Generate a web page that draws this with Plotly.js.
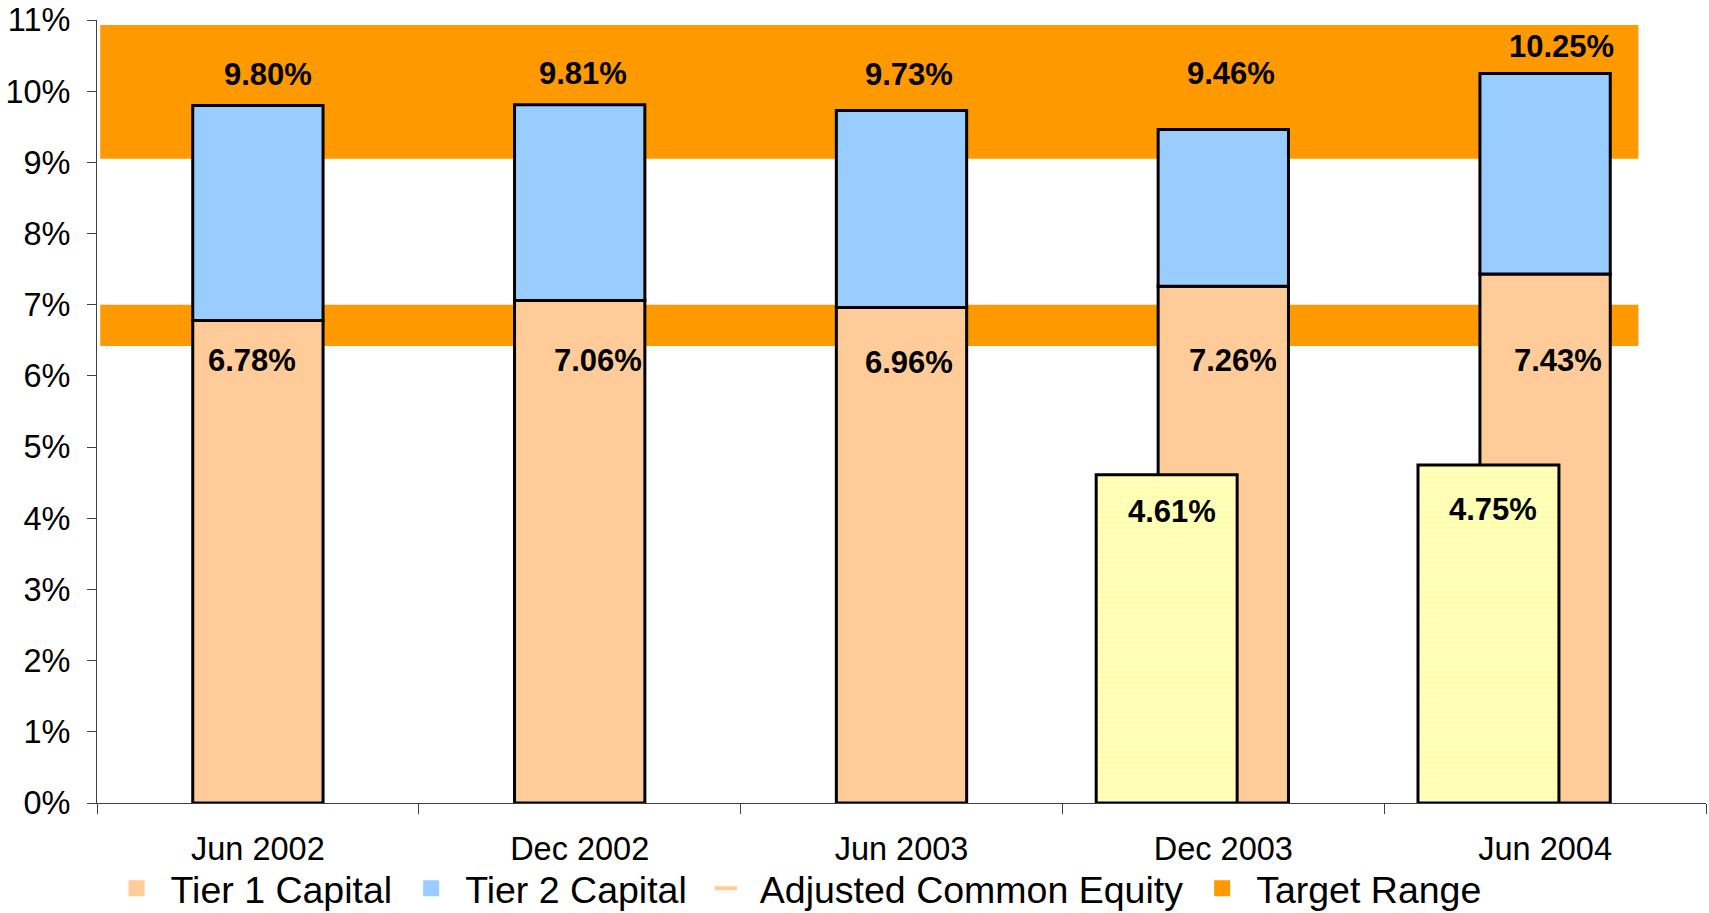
<!DOCTYPE html>
<html>
<head>
<meta charset="utf-8">
<script src="https://cdn.plot.ly/plotly-3.0.1.min.js"></script>
<style>
  html, body { margin: 0; padding: 0; background: #fff; }
  #chart { width: 1709px; height: 913px; }
</style>
</head>
<body>
<div id="chart"></div>
<script>
// ── Capital ratios vs target range ─────────────────────────────

const periods = ['Jun 2002', 'Dec 2002', 'Jun 2003', 'Dec 2003', 'Jun 2004'];
const tier1 = [6.78, 7.06, 6.96, 7.26, 7.43];
const totalCapital = [9.80, 9.81, 9.73, 9.46, 10.25];
const adjCommonEquity = [null, null, null, 4.61, 4.75];

// target ranges (upper and lower band)
const targetUpper = [9.05, 10.93];
const targetLower = [6.42, 7.00];

const C = {
    tier1: '#FFCC99',
    tier2: '#99CCFF',
    ace: '#FFFFC0',
    target: '#FF9900',
};
const FONT = 'Liberation Sans, Arial, sans-serif';
const outline = { color: '#000', width: 3 };

// label offsets (px) – hand placed like the original
const totalShift = { x: [10, 3, 7, 8, 16], y: [31, 31, 36, 56, 27] };
const tier1Shift = { x: [-6, 18, 7, 10, 13], y: [-40, -60, -55, -74, -86] };
const aceShift = { x: [0, 0, 0, -51, -52], y: [0, 0, 0, -37, -45] };

const tier2 = totalCapital.map((v, i) => +(v - tier1[i]).toFixed(2));

const data = [
    {
        type: 'bar', name: 'Tier 1 Capital', x: periods, y: tier1,
        width: 0.405, marker: { color: C.tier1, line: outline },
        showlegend: false, hoverinfo: 'skip',
    },
    {
        type: 'bar', name: 'Tier 2 Capital', x: periods, y: tier2, base: tier1,
        width: 0.405, marker: { color: C.tier2, line: outline },
        showlegend: false, hoverinfo: 'skip',
    },
    {
        type: 'bar', name: 'Adjusted Common Equity', x: periods, y: adjCommonEquity,
        width: 0.438, offset: -0.395,
        marker: {
            color: C.ace, line: outline,
            pattern: { shape: '-', fgcolor: '#FFFF99', bgcolor: C.ace, size: 5, solidity: 0.25 },
        },
        showlegend: false, hoverinfo: 'skip',
    },
];

// legend entries (swatches without outlines)
const legendItems = [
    { name: 'Tier 1 Capital', symbol: 'square', color: C.tier1 },
    { name: 'Tier 2 Capital', symbol: 'square', color: C.tier2 },
    { name: 'Adjusted Common Equity', symbol: 'line-ew-open', color: C.tier1 },
    { name: 'Target Range', symbol: 'square', color: C.target },
];
legendItems.forEach(it => {
    data.push({
        type: 'scatter', mode: 'markers', name: it.name, x: [null], y: [null],
        marker: {
            symbol: it.symbol, size: 22, color: it.color,
            line: { color: it.color, width: it.symbol === 'square' ? 0 : 4 },
        },
        hoverinfo: 'skip',
    });
});

const bands = [targetUpper, targetLower].map(b => ({
    type: 'rect', layer: 'below', xref: 'paper', yref: 'y',
    x0: 0.002, x1: 0.958, y0: b[0], y1: b[1],
    fillcolor: C.target, line: { width: 0 },
}));

const labelFont = { family: FONT, size: 31, color: '#000', weight: 'bold' };
const annotations = [];
periods.forEach((p, i) => {
    annotations.push({
        x: p, y: totalCapital[i], text: totalCapital[i].toFixed(2) + '%',
        showarrow: false, xshift: totalShift.x[i], yshift: totalShift.y[i],
        font: labelFont,
    });
    annotations.push({
        x: p, y: tier1[i], text: tier1[i].toFixed(2) + '%',
        showarrow: false, xshift: tier1Shift.x[i], yshift: tier1Shift.y[i],
        font: labelFont,
    });
    if (adjCommonEquity[i] != null) {
        annotations.push({
            x: p, y: adjCommonEquity[i], text: adjCommonEquity[i].toFixed(2) + '%',
            showarrow: false, xshift: aceShift.x[i], yshift: aceShift.y[i],
            font: labelFont,
        });
    }
});

const layout = {
    width: 1709,
    height: 913,
    margin: { t: 20, r: 3, b: 110, l: 97 },
    paper_bgcolor: '#fff',
    plot_bgcolor: '#fff',
    font: { family: FONT, color: '#000', size: 32 },
    barmode: 'overlay',
    showlegend: true,
    legend: {
        orientation: 'h',
        xref: 'container', yref: 'container',
        x: 0.06, y: 0.027, xanchor: 'left', yanchor: 'middle',
        font: { family: FONT, size: 37.5, color: '#000' },
        itemwidth: 58,
        bgcolor: 'rgba(0,0,0,0)',
    },
    xaxis: {
        type: 'category',
        range: [-0.5, 4.5],
        tickson: 'boundaries',
        ticks: 'outside', ticklen: 10, tickcolor: '#404040',
        showline: true, linecolor: '#404040', linewidth: 1,
        showgrid: false,
        ticklabelstandoff: 17,
        tickfont: { family: FONT, size: 32.5 },
    },
    yaxis: {
        range: [0, 11],
        dtick: 1,
        ticksuffix: '%',
        ticks: 'outside', ticklen: 9, tickcolor: '#404040',
        showline: true, linecolor: '#404040', linewidth: 1,
        showgrid: false, zeroline: false,
        ticklabelstandoff: 10,
        tickfont: { family: FONT, size: 32.5 },
    },
    shapes: bands,
    annotations: annotations,
};

Plotly.newPlot('chart', data, layout, { displayModeBar: false, staticPlot: true });
</script>
</body>
</html>
